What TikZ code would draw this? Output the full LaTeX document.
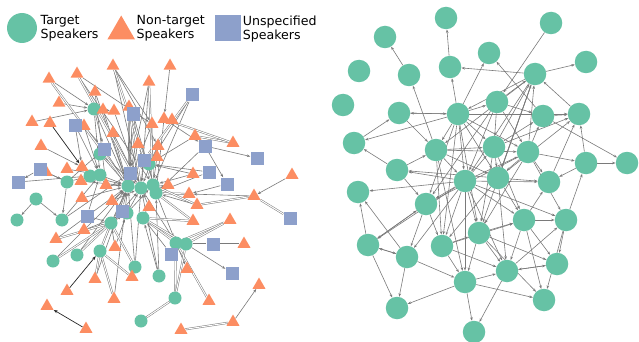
\documentclass[tikz,border=0pt]{standalone}
\usepackage{fontspec}
\setmainfont{DejaVu Sans}
\usetikzlibrary{shapes.geometric,arrows.meta,backgrounds}
\definecolor{tgc}{HTML}{66C2A5}
\definecolor{ntc}{HTML}{FC8D62}
\definecolor{unc}{HTML}{8DA0CB}
\definecolor{edc}{HTML}{7A7A7A}
\begin{document}
\begin{tikzpicture}[x=1pt,y=-1pt,
  tg/.style={circle,fill=tgc,minimum size=13pt,inner sep=0pt},
  nt/.style={regular polygon,regular polygon sides=3,fill=ntc,minimum size=15pt,inner sep=0pt},
  un/.style={rectangle,fill=unc,minimum size=13pt,inner sep=0pt},
  rn/.style={circle,fill=tgc,minimum size=22.5pt,inner sep=0pt},
  ed/.style={draw=edc,line width=0.6pt,-{Stealth[length=3.5pt,width=2.6pt]}},
  bi/.style={draw=edc,line width=0.5pt,double=white,double distance=1pt},
  dk/.style={draw=black!85,line width=0.7pt,-{Stealth[length=4pt,width=3pt]}},
  lg/.style={font=\fontsize{12.6}{14.3}\selectfont,align=left,anchor=north west,inner sep=0pt}]
\useasboundingbox (0,0) rectangle (639,342);
% legend
\node[tg,minimum size=30pt] (lgT) at (22,28) {};
\node[lg] (lgTt) at (40.5,15.3) {Target\\Speakers};
\node[nt,minimum size=32pt] (lgN) at (121.2,31.5) {};
\node[lg] (lgNt) at (136.5,15.3) {Non-target\\Speakers};
\node[un,minimum size=26pt] (lgU) at (228,28) {};
\node[lg] (lgUt) at (242.7,15.3) {Unspecified\\Speakers};
% left graph: target
\foreach \n/\x/\y in {c1/94/109,c2/100/154,c3/149/164,c4/90/176,c5/100/175,c6/67/182,c7/128/186,c8/141/188,c9/153/185,c10/156/193,c11/36/199,c12/17/220,c13/62/220,c14/111/223,c15/127/213,c16/143/218,c17/176/243,c18/186/244,c19/53/261,c20/77/255,c21/100/251,c22/135/267,c23/159/276,c24/175/298,c25/141/321}
  \node[tg] (\n) at (\x,\y) {};
% left graph: non-target
\foreach \n/\x/\y in {t1/113/66,t2/170/66,t3/49/79,t4/77/74,t5/149/82,t6/95/92,t7/59/103,t8/32/122,t9/50/123,t10/103/110,t11/114/111,t12/129/107,t13/84/126,t14/113/133,t15/152/124,t16/164/119,t17/172/120,t18/195/136,t19/233/143,t20/41/146,t21/138/144,t22/158/146,t23/157/157,t24/67/169,t25/82/167,t26/46/172,t27/81/181,t28/106/185,t29/168/185,t30/193/174,t31/292/175,t32/189/194,t33/254/196,t34/112/201,t35/149/207,t36/197/205,t37/193/221,t38/230/220,t39/84/230,t40/56/239,t41/115/247,t42/244/244,t43/187/269,t44/95/279,t45/132/277,t46/67/291,t47/114/299,t48/209/301,t49/259/285,t50/47/306,t51/86/329,t52/181/330,t53/233/322,t54/82/198}
  \node[nt] (\n) at (\x,\y) {};
% left graph: unspecified
\foreach \n/\x/\y in {s1/192/95,s2/75/125,s3/133/114,s4/104/149,s5/144/160,s6/205/146,s7/257/158,s8/40/169,s9/130/173,s10/209/172,s11/18/182,s12/227/184,s13/87/216,s14/122/211,s15/213/244,s16/171/254,s17/232/273,s18/290/218}
  \node[un] (\n) at (\x,\y) {};
% right graph
\foreach \n/\x/\y in {r1/446/18,r2/551/23,r3/385/37,r4/359/71,r5/409/75,r6/489/53,r7/586/62,r8/343/105,r9/450/67,r10/535/74,r11/399/113,r12/458/114,r13/497/102,r14/543/116,r15/579/114,r16/354/143,r17/436/150,r18/494/147,r19/528/152,r20/586/163,r21/627/163,r22/397/170,r23/465/181,r24/498/178,r25/549/182,r26/358/192,r27/426/204,r28/524/220,r29/566/220,r30/368/245,r31/442/246,r32/479/233,r33/407/257,r34/465/282,r35/507/271,r36/557/264,r37/397/308,r38/544/300,r39/474/332}
  \node[rn] (\n) at (\x,\y) {};
\begin{scope}[on background layer]
\foreach \a/\b in {t3/c1,t4/t15,t4/c9,t1/t15,t1/c8,t1/s5,t1/t22,t2/t16,t5/c8,t5/s9,t6/c7,t6/t28,t7/c1,t8/c1,t20/t25,c1/s4,c1/c7,c1/c5,c1/t11,t10/c7,t11/c8,t12/s9,t12/c7,s3/c7,s3/s9,s3/c10,s3/t21,t13/c5,t13/s4,t14/c7,t14/c8,s2/c5,s2/t25,t15/c9,t15/c7,t16/c10,t16/s6,s1/c9,s1/c3,t18/c3,s6/s7,s6/s12,s6/c10,t21/c7,t22/c8,t23/c9,t22/c3,t25/c4,t26/c6,s11/c4,s8/c6,c6/c4,c6/s4,c11/c12,c11/c13,c6/c13,s13/c14,s13/c5,c13/c5,c13/s9,t30/c9,t30/c3,t29/c10,t29/c8,t31/t33,t33/t32,t36/c10,s10/c10,s10/c3,s12/t32,t35/c8,t34/c7,t28/c7,t28/c5,c8/c17,c9/c17,c17/t43,c18/s17,s16/c17,s16/c16,t53/t49,c21/c7,c19/c7,c20/c7,t40/c7,t39/c14,t39/c15,c22/c7,c22/c8,c23/c8,c23/c10,c23/c16,t41/c14,t41/c15,t44/c7,t47/c7,c14/c7,c14/c15,c15/c8,c15/c9,c14/c8,c7/c8,c8/c9,c9/c10,c5/c7,c4/c7,s9/c7,s9/c8,s5/c8,c3/c9,c2/c7,s4/c7,c2/c8,t27/c7,t54/c7,s14/c7,s14/c14,t34/c8,t24/c5,s8/s11}
  \draw[ed] (\a) -- (\b);
\foreach \a/\b in {t3/c7,t4/c8,t1/c9,s1/s5,t18/t19,t16/t19,t33/s18,t33/t36,t32/c10,t36/c9,t37/c10,t37/c16,t38/c17,t38/c18,c16/c17,c16/c18,c17/t48,c18/s15,s15/t42,c24/c17,c24/c18,c25/c24,t52/t53,c21/t44,c21/t45,c21/t47,c21/c14,c19/c14,c20/c14,t40/c14,c22/c14,t5/c9,t12/c8}
  \draw[bi] (\a) -- (\b);
\foreach \a/\b in {t9/t25,t51/t50,t46/c21}
  \draw[dk] (\a) -- (\b);
\foreach \a/\b in {r9/r1,r5/r3,r10/r9,r10/r7,r2/r13,r12/r6,r14/r6,r12/r9,r17/r5,r12/r11,r11/r12,r13/r10,r15/r10,r13/r14,r16/r11,r12/r16,r22/r16,r23/r22,r23/r26,r22/r27,r14/r15,r20/r15,r20/r21,r14/r21,r19/r20,r20/r25,r25/r15,r28/r25,r29/r20,r30/r26,r27/r30,r33/r26,r30/r33,r33/r30,r30/r37,r33/r37,r34/r37,r33/r34,r34/r39,r27/r33,r32/r28,r28/r29,r29/r36,r28/r35,r35/r36,r36/r35,r34/r38,r35/r39,r28/r38,r29/r38,r32/r36,r28/r36,r35/r29,r34/r35,r12/r17,r12/r18,r12/r19,r12/r23,r12/r24,r12/r27,r12/r31,r12/r32,r12/r13,r12/r15,r11/r17,r17/r23,r17/r24,r17/r18,r17/r31,r17/r34,r17/r19,r23/r31,r23/r32,r23/r34,r23/r28,r23/r29,r23/r33,r23/r30,r23/r18,r23/r19,r23/r35,r23/r27,r23/r25,r18/r24,r18/r14,r18/r10,r18/r32,r18/r28,r13/r18,r19/r10,r19/r14,r19/r24,r19/r27,r19/r29,r19/r32,r19/r25,r13/r19,r24/r10,r24/r25,r24/r28,r24/r31,r24/r35,r24/r22,r24/r15,r13/r27,r13/r23,r10/r17,r10/r12,r10/r23,r10/r24,r10/r32,r27/r31,r31/r28,r31/r34,r31/r35,r31/r32,r32/r34,r32/r35,r32/r38,r22/r17,r18/r15,r30/r27}
  \draw[ed] (\a) -- (\b);
\end{scope}
\end{tikzpicture}
\end{document}
